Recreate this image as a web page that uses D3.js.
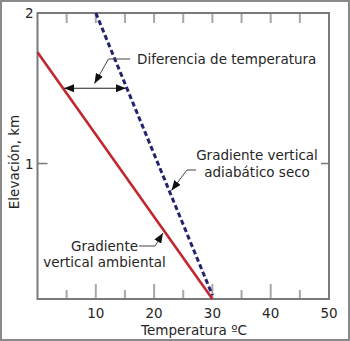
<!DOCTYPE html>
<html>
<head>
<meta charset="utf-8">
<script src="https://cdn.jsdelivr.net/npm/d3@7"></script>
<style>
  html, body { margin: 0; padding: 0; background: #fff; }
  svg { display: block; }
  text { font-family: "DejaVu Sans", Verdana, sans-serif; fill: #262626; }
</style>
</head>
<body>
<svg id="chart" width="350" height="341"></svg>
<script>
// Temperature (°C) / elevation (km) profiles
const ambientTemp = [0, 30];
const ambientElev = [1.74, 0.1];
const adiabaticTemp = [10, 30];
const adiabaticElev = [2, 0.125];

const xTicksMajor = [10, 20, 30, 40, 50];
const xTicksMinor = [5, 15, 25, 35, 45];
const yTickLabels = [1, 2];
const diffElev = 1.5; // elevation where the temperature difference is marked

const W = 350, H = 341;
const FS = 13.5;
const svg = d3.select("#chart");

// outer border
svg.append("rect")
  .attr("x", 1).attr("y", 1).attr("width", W - 2).attr("height", H - 2)
  .attr("fill", "none").attr("stroke", "#8a8a8a").attr("stroke-width", 2);

const x = d3.scaleLinear().domain([0, 50]).range([37.5, 329]);
const y = d3.scaleLinear().domain([0.1, 2]).range([299, 13]);

const tickColor = "#a8a8a8";
const frameColor = "#7a7a7a";

// top ticks (every 5, inward)
const allTop = xTicksMinor.concat(xTicksMajor.filter(d => d < 50));
svg.append("g").selectAll("line").data(allTop).join("line")
  .attr("x1", d => x(d)).attr("x2", d => x(d))
  .attr("y1", y(2)).attr("y2", y(2) + 10)
  .attr("stroke", tickColor).attr("stroke-width", 2);

// bottom ticks: long majors, short minors
svg.append("g").selectAll("line").data(xTicksMajor.filter(d => d < 50)).join("line")
  .attr("x1", d => x(d)).attr("x2", d => x(d))
  .attr("y1", y(0.1)).attr("y2", y(0.1) - 15)
  .attr("stroke", tickColor).attr("stroke-width", 2);
svg.append("g").selectAll("line").data(xTicksMinor).join("line")
  .attr("x1", d => x(d)).attr("x2", d => x(d))
  .attr("y1", y(0.1)).attr("y2", y(0.1) - 9)
  .attr("stroke", tickColor).attr("stroke-width", 2);

// left / right tick at 1 km
svg.append("line")
  .attr("x1", x(0)).attr("x2", x(0) + 10).attr("y1", y(1)).attr("y2", y(1))
  .attr("stroke", frameColor).attr("stroke-width", 1.5);
svg.append("line")
  .attr("x1", x(50)).attr("x2", x(50) - 8).attr("y1", y(1)).attr("y2", y(1))
  .attr("stroke", frameColor).attr("stroke-width", 1.5);

// plot frame
svg.append("rect")
  .attr("x", x(0)).attr("y", y(2))
  .attr("width", x(50) - x(0)).attr("height", y(0.1) - y(2))
  .attr("fill", "none").attr("stroke", frameColor).attr("stroke-width", 2);

// x tick labels
svg.append("g").selectAll("text").data(xTicksMajor).join("text")
  .attr("x", d => x(d)).attr("y", 318)
  .attr("text-anchor", "middle").attr("font-size", FS)
  .text(d => d);

// y tick labels
svg.append("g").selectAll("text").data(yTickLabels).join("text")
  .attr("x", x(0) - 4).attr("y", d => y(d) + 5)
  .attr("text-anchor", "end").attr("font-size", FS)
  .text(d => d);

// axis titles
svg.append("text")
  .attr("x", 194).attr("y", 335)
  .attr("text-anchor", "middle").attr("font-size", FS)
  .text("Temperatura ºC");
svg.append("text")
  .attr("transform", `translate(18.5,162) rotate(-90)`)
  .attr("text-anchor", "middle").attr("font-size", FS)
  .text("Elevación, km");

// profile lines
const line = d3.line().x(d => x(d[0])).y(d => y(d[1]));
const ambient = ambientTemp.map((t, i) => [t, ambientElev[i]]);
const adiabatic = adiabaticTemp.map((t, i) => [t, adiabaticElev[i]]);

svg.append("path").datum(ambient).attr("d", line)
  .attr("fill", "none").attr("stroke", "#c1272d").attr("stroke-width", 2.6);
svg.append("path").datum(adiabatic).attr("d", line)
  .attr("fill", "none").attr("stroke", "#22226e").attr("stroke-width", 3)
  .attr("stroke-dasharray", "5,3");

// arrowhead marker
const defs = svg.append("defs");
defs.append("marker")
  .attr("id", "head").attr("viewBox", "0 0 10 8")
  .attr("refX", 10).attr("refY", 4)
  .attr("markerWidth", 10).attr("markerHeight", 8)
  .attr("markerUnits", "userSpaceOnUse")
  .attr("orient", "auto-start-reverse")
  .append("path").attr("d", "M0,0 L10,4 L0,8 Z").attr("fill", "#111");

// interpolate temperature of a profile at a given elevation
function tempAt(T, E, e) {
  return T[0] + (T[1] - T[0]) * (e - E[0]) / (E[1] - E[0]);
}

// double arrow: temperature difference at diffElev
svg.append("line")
  .attr("x1", x(tempAt(ambientTemp, ambientElev, diffElev)) + 1)
  .attr("x2", x(tempAt(adiabaticTemp, adiabaticElev, diffElev)) - 1)
  .attr("y1", y(diffElev)).attr("y2", y(diffElev))
  .attr("stroke", "#222").attr("stroke-width", 1.2)
  .attr("marker-start", "url(#head)").attr("marker-end", "url(#head)");

// annotation leaders
const leaders = [
  [[130, 59], [108.5, 59], [94.5, 83.5]],
  [[196, 170], [187, 170], [171.5, 190.5]],
  [[139, 246], [155, 246], [163, 233]]
];
svg.append("g").selectAll("path").data(leaders).join("path")
  .attr("d", d3.line())
  .attr("fill", "none").attr("stroke", "#444").attr("stroke-width", 1)
  .attr("marker-end", "url(#head)");

// annotation labels
svg.append("text").attr("x", 137).attr("y", 63.5)
  .attr("font-size", FS).text("Diferencia de temperatura");

const adiab = svg.append("text").attr("font-size", FS).attr("text-anchor", "middle");
adiab.append("tspan").attr("x", 257).attr("y", 159.5).text("Gradiente vertical");
adiab.append("tspan").attr("x", 257).attr("y", 176.5).text("adiabático seco");

const amb = svg.append("text").attr("font-size", FS).attr("text-anchor", "middle");
amb.append("tspan").attr("x", 104.5).attr("y", 250.5).text("Gradiente");
amb.append("tspan").attr("x", 104.5).attr("y", 266.5).text("vertical ambiental");
</script>
</body>
</html>
